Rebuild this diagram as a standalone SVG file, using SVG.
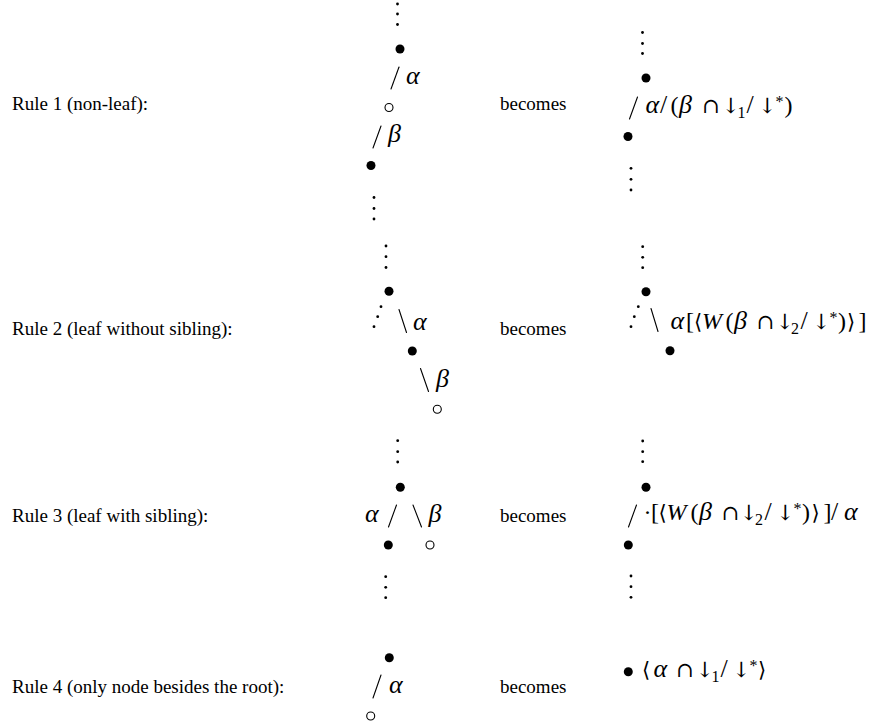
<svg xmlns="http://www.w3.org/2000/svg" width="870" height="728" viewBox="0 0 870 728">
<style>
.lbl{font-family:"Liberation Serif","Times New Roman",serif;font-size:19px;fill:#000}
.m{font-family:"Liberation Serif","DejaVu Serif",serif;font-size:24px;fill:#000}
.g{font-family:"Liberation Serif","DejaVu Serif",serif;font-size:26px;font-style:italic}
.w{font-family:"Liberation Serif",serif;font-size:24px;font-style:italic}
.s{font-family:"DejaVu Serif",serif;font-size:21px;letter-spacing:-5px}
.sl{font-family:"Liberation Serif",serif;font-size:26px}
.sub{font-family:"Liberation Serif",serif;font-size:16px}
.st{font-family:"Liberation Serif",serif;font-size:16px}
.e{stroke:#000;stroke-width:1.1;fill:none;stroke-linecap:round}
.f{fill:#000}
.o{fill:#fff;stroke:#000;stroke-width:1.1}
.d{fill:#000}
</style>
<rect width="870" height="728" fill="#fff"/>

<g id="labels">
<text class="lbl" x="12" y="110">Rule 1 (non-leaf):</text>
<text class="lbl" x="500" y="110">becomes</text>
<text class="lbl" x="12" y="335">Rule 2 (leaf without sibling):</text>
<text class="lbl" x="500" y="335">becomes</text>
<text class="lbl" x="12" y="522">Rule 3 (leaf with sibling):</text>
<text class="lbl" x="500" y="522">becomes</text>
<text class="lbl" x="12" y="693">Rule 4 (only node besides the root):</text>
<text class="lbl" x="500" y="693">becomes</text>
</g>

<g id="connectors">
<line class="e" x1="391" y1="89" x2="399" y2="67"/>
<line class="e" x1="373" y1="148" x2="381" y2="126"/>
<line class="e" x1="629.5" y1="119" x2="637.5" y2="97"/>
<line class="e" x1="399" y1="309.5" x2="406.5" y2="332.5"/>
<line class="e" x1="420.5" y1="368.5" x2="428.5" y2="391.5"/>
<line class="e" x1="651" y1="308.5" x2="658" y2="331.5"/>
<line class="e" x1="388.5" y1="527" x2="396.5" y2="505"/>
<line class="e" x1="413" y1="505" x2="421.5" y2="527"/>
<line class="e" x1="628.5" y1="527" x2="636.5" y2="505"/>
<line class="e" x1="373" y1="698" x2="381" y2="675"/>
</g>

<g id="rule1-left">
<circle class="d" cx="397.5" cy="4" r="1.4"/>
<circle class="d" cx="397.5" cy="14" r="1.4"/>
<circle class="d" cx="397.5" cy="24.5" r="1.4"/>
<circle class="f" cx="400" cy="49" r="4.5"/>
<text class="g" x="406" y="84">α</text>
<circle class="o" cx="389" cy="107.5" r="4"/>
<text class="g" x="388" y="142">β</text>
<circle class="f" cx="371" cy="165.5" r="4.5"/>
<circle class="d" cx="374" cy="197.5" r="1.4"/>
<circle class="d" cx="374" cy="208.5" r="1.4"/>
<circle class="d" cx="374" cy="219" r="1.4"/>
</g>

<g id="rule1-right">
<circle class="d" cx="642.5" cy="32.5" r="1.4"/>
<circle class="d" cx="642.5" cy="43.5" r="1.4"/>
<circle class="d" cx="642.5" cy="53.5" r="1.4"/>
<circle class="f" cx="646" cy="78" r="4.5"/>
<text class="m" y="113"><tspan class="g" x="645.5">α</tspan><tspan class="sl" x="660">/</tspan><tspan x="670.5">(</tspan><tspan class="g" x="679">β</tspan><tspan class="s" x="702">∩</tspan><tspan class="s" x="722">↓</tspan><tspan class="sub" x="737.5" y="118">1</tspan><tspan class="sl" x="746.5" y="113">/</tspan><tspan class="s" x="758.5">↓</tspan><tspan class="st" x="775.5" y="107">*</tspan><tspan x="784.5" y="113">)</tspan></text>
<circle class="f" cx="628" cy="136.5" r="4.5"/>
<circle class="d" cx="631" cy="168.3" r="1.4"/>
<circle class="d" cx="631" cy="179.3" r="1.4"/>
<circle class="d" cx="631" cy="190" r="1.4"/>
</g>

<g id="rule2-left">
<circle class="d" cx="386" cy="246" r="1.4"/>
<circle class="d" cx="386" cy="256.7" r="1.4"/>
<circle class="d" cx="386" cy="267.5" r="1.4"/>
<circle class="f" cx="389" cy="291.3" r="4.5"/>
<circle class="d" cx="381" cy="306.7" r="1.4"/>
<circle class="d" cx="377.7" cy="316.7" r="1.4"/>
<circle class="d" cx="374" cy="326.7" r="1.4"/>
<text class="g" x="413" y="330">α</text>
<circle class="f" cx="412.3" cy="351" r="4.5"/>
<text class="g" x="436" y="387">β</text>
<circle class="o" cx="437.3" cy="409.3" r="4"/>
</g>

<g id="rule2-right">
<circle class="d" cx="642.7" cy="246.7" r="1.4"/>
<circle class="d" cx="642.7" cy="257.3" r="1.4"/>
<circle class="d" cx="642.7" cy="267.7" r="1.4"/>
<circle class="f" cx="646" cy="291.7" r="4.5"/>
<circle class="d" cx="638.3" cy="306.7" r="1.4"/>
<circle class="d" cx="634.3" cy="316.7" r="1.4"/>
<circle class="d" cx="631" cy="326.7" r="1.4"/>
<text class="m" y="329"><tspan class="g" x="670.5">α</tspan><tspan x="686">[</tspan><tspan class="s" x="694">⟨</tspan><tspan class="w" x="702">W</tspan><tspan x="725.5">(</tspan><tspan class="g" x="734">β</tspan><tspan class="s" x="756.5">∩</tspan><tspan class="s" x="776">↓</tspan><tspan class="sub" x="791" y="334">2</tspan><tspan class="sl" x="800.5" y="329">/</tspan><tspan class="s" x="812.5">↓</tspan><tspan class="st" x="829.5" y="323">*</tspan><tspan x="838" y="329">)</tspan><tspan class="s" x="847">⟩</tspan><tspan x="858.5">]</tspan></text>
<circle class="f" cx="670" cy="350.7" r="4.5"/>
</g>

<g id="rule3-left">
<circle class="d" cx="397.7" cy="440.7" r="1.4"/>
<circle class="d" cx="397.7" cy="451.7" r="1.4"/>
<circle class="d" cx="397.7" cy="462" r="1.4"/>
<circle class="f" cx="400.3" cy="487.3" r="4.5"/>
<text class="g" x="365" y="521.5">α</text>
<text class="g" x="428.5" y="521.5">β</text>
<circle class="f" cx="388.3" cy="545" r="4.5"/>
<circle class="o" cx="430" cy="545" r="4"/>
<circle class="d" cx="385.7" cy="576.7" r="1.4"/>
<circle class="d" cx="385.7" cy="587.3" r="1.4"/>
<circle class="d" cx="385.7" cy="597.7" r="1.4"/>
</g>

<g id="rule3-right">
<circle class="d" cx="642.7" cy="441" r="1.4"/>
<circle class="d" cx="642.7" cy="451.7" r="1.4"/>
<circle class="d" cx="642.7" cy="461.7" r="1.4"/>
<circle class="f" cx="646" cy="487.3" r="4.5"/>
<text class="m" y="520"><tspan x="643.5">·</tspan><tspan x="651">[</tspan><tspan class="s" x="658.5">⟨</tspan><tspan class="w" x="666.5">W</tspan><tspan x="690.5">(</tspan><tspan class="g" x="699">β</tspan><tspan class="s" x="721.5">∩</tspan><tspan class="s" x="740">↓</tspan><tspan class="sub" x="755" y="525">2</tspan><tspan class="sl" x="764.5" y="520">/</tspan><tspan class="s" x="776.5">↓</tspan><tspan class="st" x="793.5" y="514">*</tspan><tspan x="802" y="520">)</tspan><tspan class="s" x="811.5">⟩</tspan><tspan x="823.5">]</tspan><tspan class="sl" x="831">/</tspan><tspan class="g" x="844">α</tspan></text>
<circle class="f" cx="628.3" cy="545" r="4.5"/>
<circle class="d" cx="631" cy="576" r="1.4"/>
<circle class="d" cx="631" cy="586.7" r="1.4"/>
<circle class="d" cx="631" cy="597.3" r="1.4"/>
</g>

<g id="rule4-left">
<circle class="f" cx="389.3" cy="657.7" r="4.5"/>
<text class="g" x="389" y="692.5">α</text>
<circle class="o" cx="370.7" cy="716" r="4"/>
</g>

<g id="rule4-right">
<circle class="f" cx="628.3" cy="671.7" r="4.5"/>
<text class="m" y="677"><tspan class="s" x="642">⟨</tspan><tspan class="g" x="653.5">α</tspan><tspan class="s" x="676">∩</tspan><tspan class="s" x="696">↓</tspan><tspan class="sub" x="711.5" y="682">1</tspan><tspan class="sl" x="720.5" y="677">/</tspan><tspan class="s" x="732.5">↓</tspan><tspan class="st" x="749.5" y="671">*</tspan><tspan class="s" x="758" y="677">⟩</tspan></text>
</g>
</svg>
